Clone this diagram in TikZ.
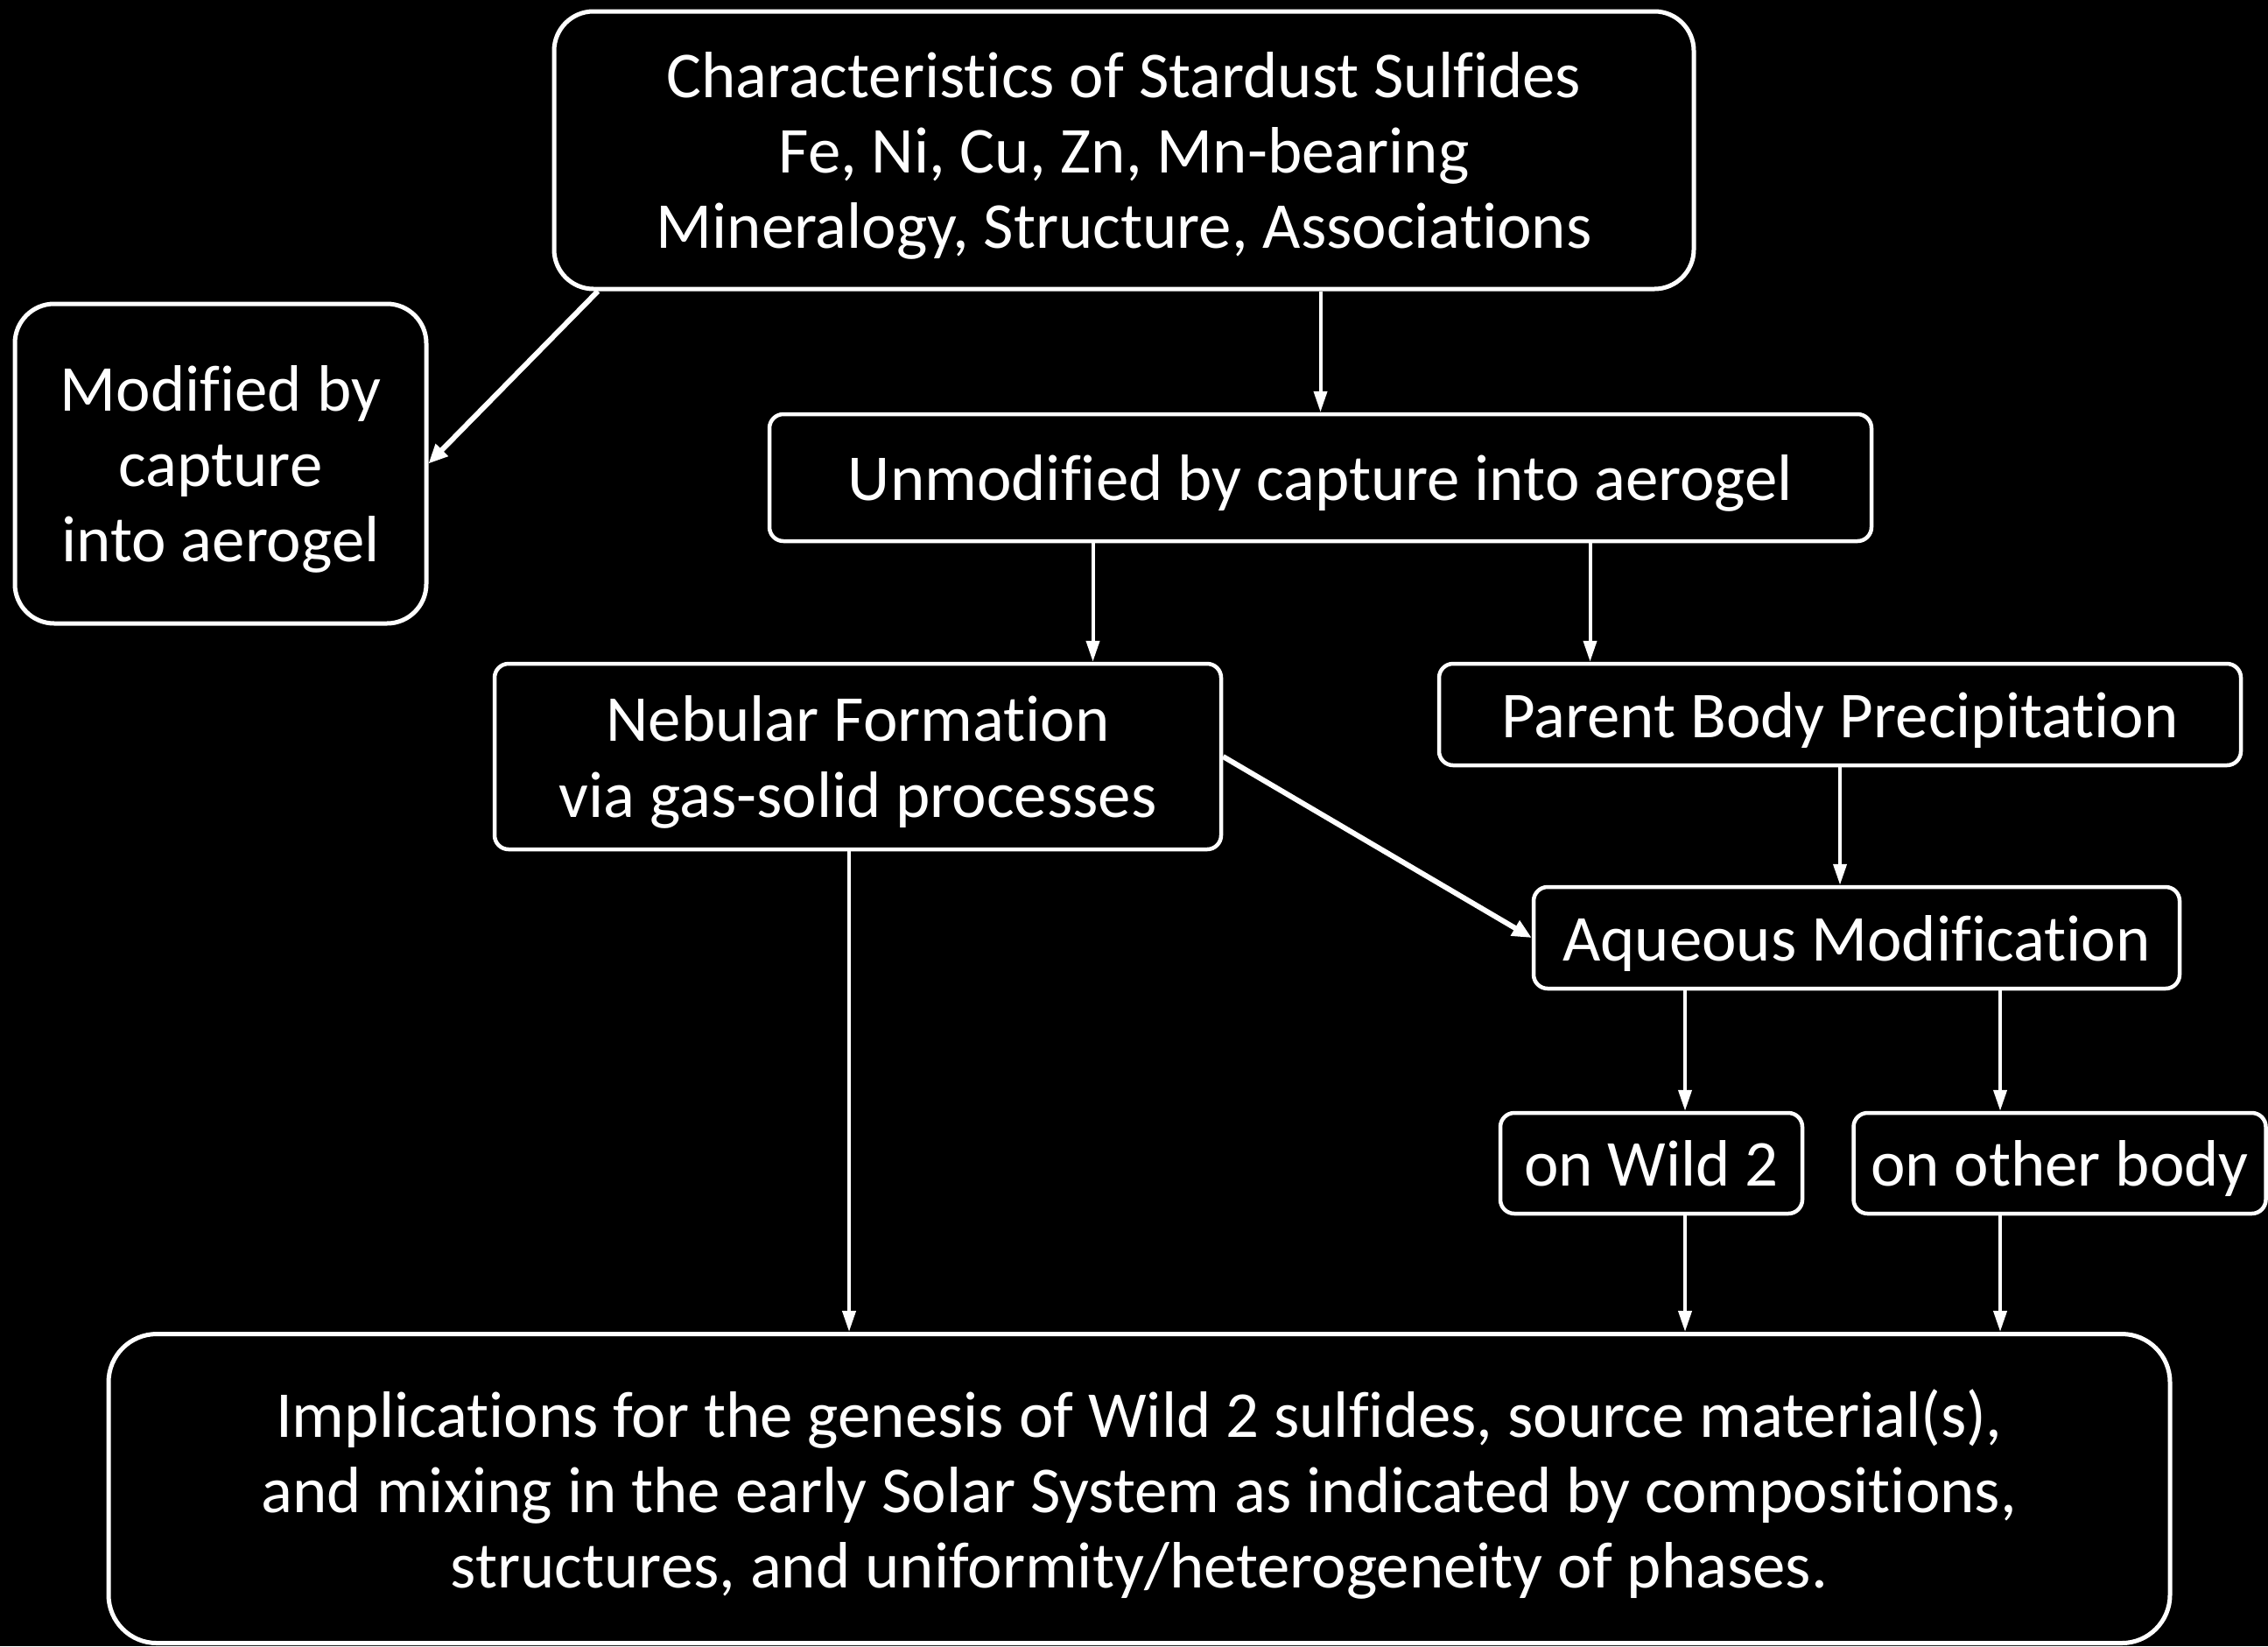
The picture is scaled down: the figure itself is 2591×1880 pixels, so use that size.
\documentclass[tikz,border=0pt]{standalone}
\usepackage{fontspec}
\setmainfont[Ligatures=NoCommon]{Carlito}
\usetikzlibrary{arrows.meta,positioning,calc}
\tikzset{
  bigbox/.style={draw=white, line width=0.5mm, rounded corners=4.5mm, text=white,
    align=center, inner sep=0pt, font=\fontsize{21.3}{24.5}\selectfont, text depth=0pt},
  smallbox/.style={bigbox, line width=0.45mm, rounded corners=1.6mm},
  flow/.style={draw=white, line width=0.4mm, -{Triangle[length=2.4mm,width=1.5mm]}},
  thickflow/.style={draw=white, line width=0.6mm, -{Triangle[length=2.2mm,width=1.9mm]}},
}

\begin{document}
\begin{tikzpicture}[x=0.1mm, y=-0.1mm]

\fill[black] (0,0) rectangle (2591,1880);
\useasboundingbox (0,0) rectangle (2591,1880);

\node[bigbox, minimum width=130.2mm, minimum height=31.7mm] (chars) at (1284,171.5)
  {Characteristics of Stardust Sulfides\\Fe, Ni, Cu, Zn, Mn-bearing\\Mineralogy, Structure, Associations};
\node[bigbox, minimum width=47mm, minimum height=36.5mm] (modified) at (252,529.5)
  {Modified by\\capture\\into aerogel};
\node[smallbox, minimum width=125.9mm, minimum height=14.5mm] (unmodified) at (1508.5,545.5)
  {Unmodified by capture into aerogel};
\node[smallbox, minimum width=83mm, minimum height=21.2mm] (nebular) at (980,864)
  {Nebular Formation\\via gas-solid processes};
\node[smallbox, minimum width=91.6mm, minimum height=11.6mm] (parent) at (2102,816)
  {Parent Body Precipitation};
\node[smallbox, minimum width=73.8mm, minimum height=11.6mm] (aqueous) at (2121,1071)
  {Aqueous Modification};
\node[smallbox, minimum width=34.5mm, minimum height=11.5mm] (wild) at (1886.5,1328.5)
  {on Wild 2};
\node[smallbox, minimum width=47.1mm, minimum height=11.5mm, right=5.4mm of wild] (other)
  {on other body};
\node[bigbox, rounded corners=5.5mm, minimum width=235.5mm, minimum height=35.3mm] (implic) at (1301.5,1700)
  {Implications for the genesis of Wild 2 sulfides, source material(s),\\and mixing in the early Solar System as indicated by compositions,\\structures, and uniformity/heterogeneity of phases.};

% capture
\draw[thickflow] (chars.195) -- (modified.east);
\draw[flow] (chars.south -| unmodified.north) -- (unmodified.north);

% formation routes
\draw[flow] ([xshift=-26mm]unmodified.south) -- ([xshift=-26mm]unmodified.south |- nebular.north);
\draw[flow] ([xshift=30.8mm]unmodified.south) -- ([xshift=30.8mm]unmodified.south |- parent.north);
\draw[thickflow] (nebular.east) -- (aqueous.west);
\draw[flow] (parent.south) -- (parent.south |- aqueous.north);
\draw[flow] ([xshift=-19.6mm]aqueous.south) -- ([xshift=-19.6mm]aqueous.south |- wild.north);
\draw[flow] ([xshift=16.4mm]aqueous.south) -- ([xshift=16.4mm]aqueous.south |- other.north);

% implications
\draw[flow] ([xshift=-1mm]nebular.south) -- ([xshift=-1mm]nebular.south |- implic.north);
\draw[flow] ([xshift=-19.6mm]aqueous.south |- wild.south) -- ([xshift=-19.6mm]aqueous.south |- implic.north);
\draw[flow] ([xshift=16.4mm]aqueous.south |- other.south) -- ([xshift=16.4mm]aqueous.south |- implic.north);

\end{tikzpicture}
\end{document}
